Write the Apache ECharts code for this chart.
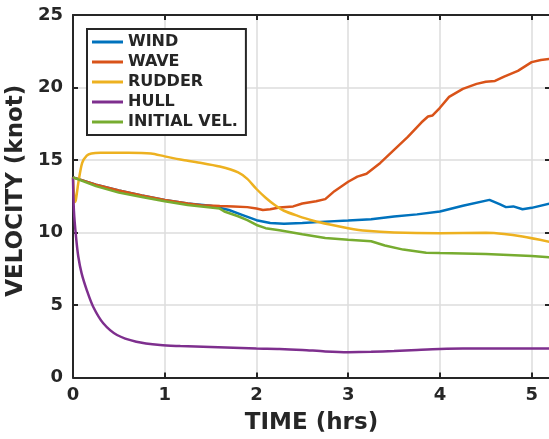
<!DOCTYPE html>
<html>
<head>
<meta charset="utf-8">
<script src="https://cdn.jsdelivr.net/npm/echarts@6/dist/echarts.min.js"></script>
<style>
html,body{margin:0;padding:0;background:#fff;}
#chart{width:549px;height:439px;}
</style>
</head>
<body>
<div id="chart"></div>
<script>
// ---- data (time in hrs, velocity in knot) ----
var seriesNames = ['WIND', 'WAVE', 'RUDDER', 'HULL', 'INITIAL VEL.'];

var windT = [0, 0.25, 0.5, 0.75, 1.0, 1.25, 1.5, 1.7, 1.85, 2.0, 2.15, 2.3, 2.5, 2.75, 3.0, 3.25, 3.5, 3.75, 4.0, 4.25, 4.54, 4.65, 4.72, 4.8, 4.9, 5.0, 5.2];
var windV = [13.8, 13.3, 12.9, 12.55, 12.25, 12.0, 11.85, 11.55, 11.2, 10.85, 10.65, 10.6, 10.65, 10.75, 10.82, 10.92, 11.1, 11.25, 11.45, 11.85, 12.25, 11.95, 11.75, 11.8, 11.6, 11.7, 12.0];

var waveT = [0, 0.25, 0.5, 0.75, 1.0, 1.25, 1.4, 1.6, 1.75, 1.9, 2.0, 2.07, 2.15, 2.25, 2.4, 2.5, 2.65, 2.75, 2.85, 3.0, 3.1, 3.2, 3.35, 3.5, 3.65, 3.8, 3.87, 3.92, 4.0, 4.1, 4.25, 4.4, 4.5, 4.6, 4.7, 4.85, 5.0, 5.1, 5.2];
var waveV = [13.8, 13.3, 12.9, 12.55, 12.25, 12.0, 11.88, 11.82, 11.8, 11.75, 11.65, 11.55, 11.6, 11.72, 11.8, 12.0, 12.15, 12.3, 12.85, 13.5, 13.85, 14.05, 14.8, 15.7, 16.6, 17.6, 18.0, 18.07, 18.6, 19.35, 19.9, 20.25, 20.4, 20.45, 20.75, 21.15, 21.75, 21.9, 21.97];

var rudderT = [0, 0.02, 0.03, 0.06, 0.1, 0.15, 0.2, 0.3, 0.6, 0.85, 1.0, 1.2, 1.4, 1.6, 1.8, 1.9, 2.0, 2.1, 2.2, 2.3, 2.45, 2.6, 2.8, 3.0, 3.2, 3.5, 4.0, 4.5, 4.7, 4.9, 5.2];
var rudderV = [13.8, 12.1, 12.2, 13.5, 14.8, 15.3, 15.45, 15.5, 15.5, 15.45, 15.25, 15.0, 14.8, 14.55, 14.15, 13.7, 13.0, 12.4, 11.9, 11.5, 11.15, 10.85, 10.55, 10.3, 10.12, 10.0, 9.95, 9.98, 9.9, 9.72, 9.35];

var hullT = [0, 0.01, 0.033, 0.058, 0.094, 0.15, 0.22, 0.33, 0.48, 0.69, 0.95, 1.17, 1.5, 2.0, 2.25, 2.5, 2.75, 3.0, 3.25, 3.5, 3.75, 4.0, 4.25, 4.5, 5.2];
var hullV = [13.8, 11.5, 9.7, 8.33, 7.18, 6.03, 4.88, 3.74, 2.93, 2.47, 2.24, 2.17, 2.1, 2.0, 1.97, 1.9, 1.8, 1.75, 1.77, 1.82, 1.9, 1.97, 2.0, 2.0, 2.0];

var initT = [0, 0.25, 0.5, 0.75, 1.0, 1.25, 1.5, 1.6, 1.65, 1.8, 1.9, 2.0, 2.1, 2.25, 2.5, 2.75, 3.0, 3.25, 3.4, 3.6, 3.85, 4.0, 4.5, 5.0, 5.2];
var initV = [13.8, 13.2, 12.75, 12.45, 12.15, 11.9, 11.72, 11.65, 11.45, 11.12, 10.85, 10.52, 10.3, 10.15, 9.88, 9.62, 9.5, 9.4, 9.1, 8.82, 8.6, 8.58, 8.52, 8.38, 8.28];

var xTicks = [0, 1, 2, 3, 4, 5];
var yTicks = [0, 5, 10, 15, 20, 25];

// ---- build ----
function pairs(t, v) { return t.map(function (x, i) { return [x, v[i]]; }); }
var colors = ['#0072BD', '#D95319', '#EDB120', '#7E2F8E', '#77AC30'];
var allData = [pairs(windT, windV), pairs(waveT, waveV), pairs(rudderT, rudderV), pairs(hullT, hullV), pairs(initT, initV)];
var smoothing = [false, false, 0.25, 0.3, false];

var FONT = 'DejaVu Sans';
var AX = '#262626';
var GRID = '#dcdcdc';

var axisCommon = {
  axisLine: {show: true, onZero: false, lineStyle: {color: AX, width: 2}},
  axisTick: {show: true, inside: true, length: 5, lineStyle: {color: AX, width: 2}}
};

var chart = echarts.init(document.getElementById('chart'), null, {renderer: 'canvas'});
var option = {
  animation: false,
  backgroundColor: '#fff',
  color: colors,
  grid: {left: 73, right: -1, top: 15, bottom: 61.5, containLabel: false, outerBoundsMode: 'none'},
  legend: {
    data: seriesNames,
    orient: 'vertical',
    left: 87, top: 29, z: 20,
    icon: 'rect',
    itemWidth: 31, itemHeight: 3, itemGap: 4,
    padding: [5, 8, 5, 5],
    borderColor: AX, borderWidth: 2,
    backgroundColor: '#ffffff',
    textStyle: {fontFamily: FONT, fontWeight: 'bold', fontSize: 16, color: '#262626'},
    itemStyle: {borderWidth: 0}
  },
  xAxis: [Object.assign({
    type: 'value', min: 0, max: 5.2, interval: 1,
    name: 'TIME (hrs)', nameLocation: 'middle', nameGap: 34,
    nameTextStyle: {fontFamily: FONT, fontWeight: 'bold', fontSize: 23, color: AX},
    axisLabel: {fontFamily: FONT, fontWeight: 'bold', fontSize: 18, color: AX, margin: 9,
      formatter: function (v) { return xTicks.indexOf(v) >= 0 ? String(v) : ''; }},
    splitLine: {show: true, lineStyle: {color: GRID, width: 1.5, type: 'solid'}}
  }, axisCommon), Object.assign({
    type: 'value', min: 0, max: 5.2, interval: 1, position: 'top',
    axisLabel: {show: false}, splitLine: {show: false}
  }, axisCommon)],
  yAxis: [Object.assign({
    type: 'value', min: 0, max: 25, interval: 5,
    name: 'VELOCITY (knot)', nameLocation: 'middle', nameGap: 42,
    nameTextStyle: {fontFamily: FONT, fontWeight: 'bold', fontSize: 23, color: AX, padding: [0, 0, 0, 11]},
    axisLabel: {fontFamily: FONT, fontWeight: 'bold', fontSize: 18, color: AX, margin: 10,
      formatter: function (v) { return yTicks.indexOf(v) >= 0 ? String(v) : ''; }},
    splitLine: {show: true, lineStyle: {color: GRID, width: 1.5, type: 'solid'}}
  }, axisCommon), Object.assign({
    type: 'value', min: 0, max: 25, interval: 5, position: 'right',
    axisLabel: {show: false}, splitLine: {show: false}
  }, axisCommon)],
  series: seriesNames.map(function (n, i) {
    return {
      name: n, type: 'line', data: allData[i],
      xAxisIndex: 0, yAxisIndex: 0,
      showSymbol: false, symbol: 'none', smooth: smoothing[i],
      lineStyle: {width: 2.5, color: colors[i]},
      itemStyle: {color: colors[i]},
      z: 3 + i
    };
  })
};
chart.setOption(option);
</script>
</body>
</html>
